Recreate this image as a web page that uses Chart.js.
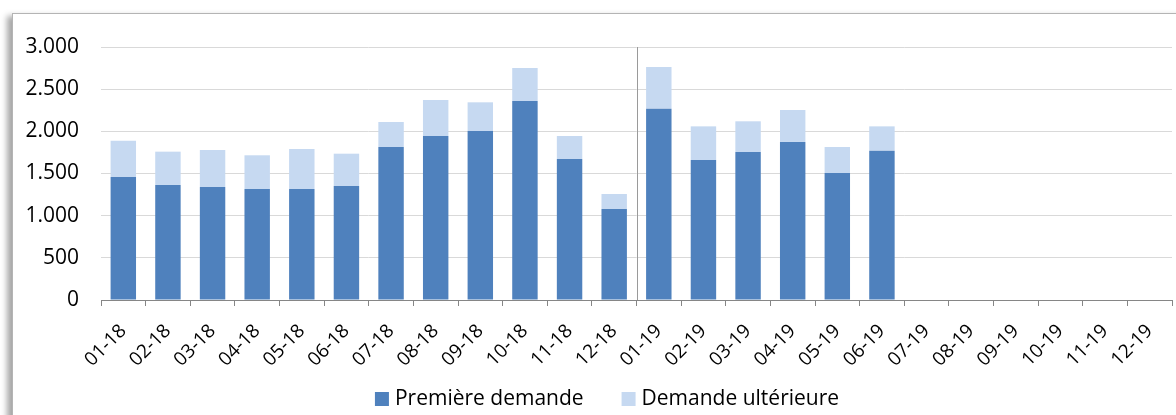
<!DOCTYPE html>
<html>
<head>
<meta charset="utf-8">
<script src="https://cdn.jsdelivr.net/npm/chart.js@4/dist/chart.umd.min.js"></script>
<style>
  html, body { margin: 0; padding: 0; background: #fff; overflow: hidden; }
  #cadre {
    position: absolute; left: 12px; top: 13px; width: 1220px; height: 430px;
    border: 1px solid #b4b4b4; background: #fff;
    box-shadow: -5px 3px 6px rgba(0,0,0,0.35);
  }
  #zone { position: absolute; left: 0; top: 0; width: 1176px; height: 415px; }
</style>
</head>
<body>
<div id="cadre"></div>
<div id="zone"><canvas id="graphique" width="1176" height="415"></canvas></div>
<script>
// Mois (catégories)
const mois = ["01-18","02-18","03-18","04-18","05-18","06-18","07-18","08-18","09-18","10-18","11-18","12-18",
              "01-19","02-19","03-19","04-19","05-19","06-19","07-19","08-19","09-19","10-19","11-19","12-19"];

// Première demande
const premiereDemande = [1458, 1364, 1340, 1316, 1316, 1352, 1814, 1945, 2004, 2360, 1672, 1079,
                         2269, 1660, 1755, 1874, 1506, 1771, null, null, null, null, null, null];

// Demande ultérieure
const demandeUlterieure = [431, 395, 439, 400, 475, 383, 297, 427, 340, 391, 273, 178,
                           494, 399, 364, 379, 308, 288, null, null, null, null, null, null];

const ticksY = [0, 500, 1000, 1500, 2000, 2500, 3000];

// Ligne verticale entre 12-18 et 01-19
const separateur = {
  id: 'separateur',
  afterDatasetsDraw(chart) {
    const x = chart.scales.x;
    const y = chart.scales.y;
    const px = Math.round((x.getPixelForValue(11) + x.getPixelForValue(12)) / 2) + 0.5;
    const ctx = chart.ctx;
    ctx.save();
    ctx.strokeStyle = '#9a9a9a';
    ctx.lineWidth = 1;
    ctx.beginPath();
    ctx.moveTo(px, y.getPixelForValue(3000));
    ctx.lineTo(px, y.getPixelForValue(0));
    ctx.stroke();
    ctx.restore();
  }
};

// Légende dessinée en bas (espacement comme Excel)
const legende = {
  id: 'legende',
  afterDraw(chart) {
    const ctx = chart.ctx;
    const ds = chart.data.datasets;
    ctx.save();
    ctx.font = "21px 'Open Sans', sans-serif";
    ctx.textBaseline = 'middle';
    const largeurs = ds.map(d => 20 + ctx.measureText(d.label).width);
    const total = largeurs.reduce((a, b) => a + b, 0) + 38 * (ds.length - 1);
    let x = 607 - total / 2;
    const yc = 399;
    ds.forEach((d, i) => {
      ctx.fillStyle = d.backgroundColor;
      ctx.fillRect(x, yc - 7, 14, 14);
      ctx.fillStyle = '#000';
      ctx.fillText(d.label, x + 20, yc);
      x += largeurs[i] + 38;
    });
    ctx.restore();
  }
};

Chart.defaults.font.family = "'Open Sans', sans-serif";
Chart.defaults.color = '#000';

new Chart(document.getElementById('graphique').getContext('2d'), {
  type: 'bar',
  data: {
    labels: mois,
    datasets: [{
      label: 'Première demande',
      data: premiereDemande,
      backgroundColor: '#4f81bd',
      categoryPercentage: 1,
      barPercentage: 0.57
    }, {
      label: 'Demande ultérieure',
      data: demandeUlterieure,
      backgroundColor: '#c6d9f1',
      categoryPercentage: 1,
      barPercentage: 0.57
    }]
  },
  options: {
    responsive: false,
    animation: false,
    layout: { padding: { top: 47, right: 4, left: 0, bottom: 0 } },
    plugins: {
      tooltip: { enabled: false },
      legend: { display: false }
    },
    scales: {
      x: {
        stacked: true,
        grid: { drawOnChartArea: false, drawTicks: true, tickLength: 6, color: '#868686', offset: true },
        border: { color: '#868686' },
        ticks: { font: { size: 19 }, minRotation: 45, maxRotation: 45, padding: 14, autoSkip: false },
        afterFit(s) { s.height = 115; s.paddingLeft = 0; s.paddingRight = 0; }
      },
      y: {
        stacked: true,
        min: 0,
        max: 3000,
        afterBuildTicks(s) { s.ticks = ticksY.map(v => ({ value: v })); },
        grid: { color: '#d9d9d9', drawTicks: false },
        border: { display: false },
        ticks: {
          font: { size: 21 },
          padding: 22,
          callback: v => String(v).replace(/\B(?=(\d{3})+(?!\d))/g, '.')
        },
        afterFit(s) { s.width = 101; }
      }
    }
  },
  plugins: [separateur, legende]
});
</script>
</body>
</html>
